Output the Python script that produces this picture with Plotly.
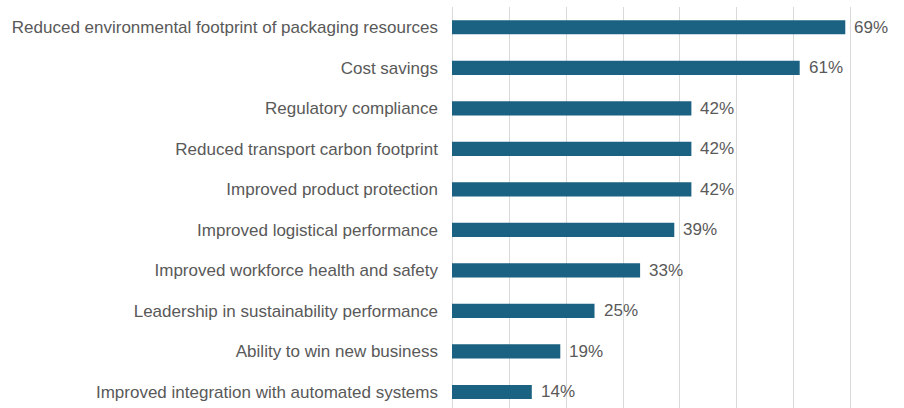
import plotly.graph_objects as go

# Benefits of sustainable packaging, share of respondents (%)
categories = [
    "Reduced environmental footprint of packaging resources",
    "Cost savings",
    "Regulatory compliance",
    "Reduced transport carbon footprint",
    "Improved product protection",
    "Improved logistical performance",
    "Improved workforce health and safety",
    "Leadership in sustainability performance",
    "Ability to win new business",
    "Improved integration with automated systems",
]
values = [69, 61, 42, 42, 42, 39, 33, 25, 19, 14]
value_labels = [f"{v}%" for v in values]

BAR_COLOR = "#1b6182"
TEXT_COLOR = "#595959"
GRID_COLOR = "#d9d9d9"
FONT = "Liberation Sans, Arial, sans-serif"

fig = go.Figure(
    go.Bar(
        x=values,
        y=categories,
        orientation="h",
        width=0.35,
        marker=dict(color=BAR_COLOR, line=dict(width=0)),
        hoverinfo="skip",
    )
)

# value labels just to the right of each bar end
for cat, v, lab in zip(categories, values, value_labels):
    fig.add_annotation(
        x=v,
        y=cat,
        text=lab,
        showarrow=False,
        xanchor="left",
        yanchor="middle",
        xshift=7,
        font=dict(size=17, color=TEXT_COLOR, family=FONT),
    )

fig.update_layout(
    width=904,
    height=408,
    margin=dict(l=452, r=0, t=7, b=0),
    paper_bgcolor="white",
    plot_bgcolor="white",
    showlegend=False,
    font=dict(family=FONT, color=TEXT_COLOR, size=17),
)

fig.update_xaxes(
    range=[0, 79.3],
    dtick=10,
    showgrid=True,
    gridcolor=GRID_COLOR,
    gridwidth=1,
    zeroline=True,
    zerolinecolor=GRID_COLOR,
    zerolinewidth=1,
    showticklabels=False,
    showline=False,
    fixedrange=True,
)

fig.update_yaxes(
    categoryorder="array",
    categoryarray=categories,
    range=[9.395, -0.5],
    showgrid=False,
    ticks="",
    ticklabelstandoff=13,
    tickfont=dict(size=17, color=TEXT_COLOR, family=FONT),
    showline=False,
    fixedrange=True,
)

fig.write_html("out.html")
